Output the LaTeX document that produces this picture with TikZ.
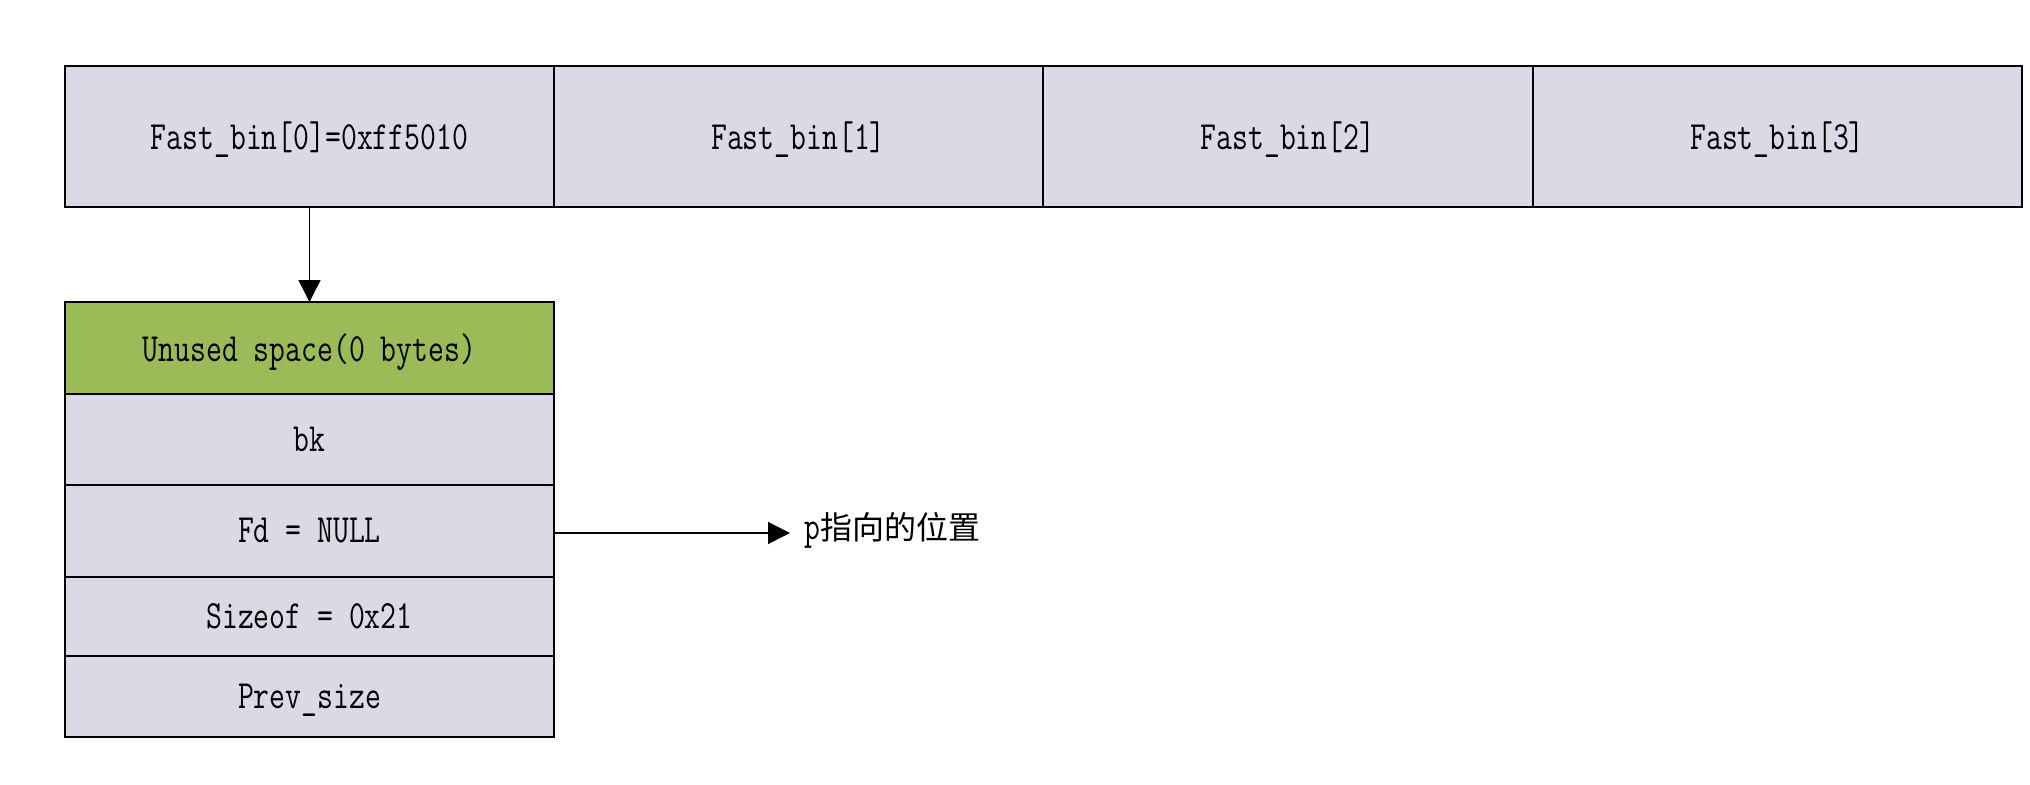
\documentclass[tikz,border=0pt]{standalone}
\usepackage{fontspec}
\usetikzlibrary{arrows.meta}
\newfontfamily\condmono{Latin Modern Mono}[FakeStretch=0.77]
\newfontfamily\cjk{Noto Sans CJK SC}
\definecolor{cellfill}{RGB}{221,216,230}
\definecolor{greenfill}{RGB}{155,187,89}
\tikzset{
  cell/.style={draw=black, line width=0.7pt, fill=cellfill, inner sep=0pt, outer sep=0pt,
    font=\condmono\fontsize{20}{22}\selectfont, anchor=center, text depth=0.5pt},
  arr/.style={line width=0.7pt, -{Triangle[length=11pt,width=11pt]}},
}
\begin{document}
\begin{tikzpicture}[x=0.5pt,y=-0.5pt]
\useasboundingbox (0,0) rectangle (2030,784);
% top row
\node[cell, minimum width=244.5pt, minimum height=70.5pt] (fb0) at (309.5,136.5) {Fast\_bin[0]=0xff5010};
\node[cell, minimum width=244.5pt, minimum height=70.5pt] (fb1) at (798.5,136.5) {Fast\_bin[1]};
\node[cell, minimum width=245pt, minimum height=70.5pt] (fb2) at (1288,136.5) {Fast\_bin[2]};
\node[cell, minimum width=244.5pt, minimum height=70.5pt] (fb3) at (1777.5,136.5) {Fast\_bin[3]};
% stack
\node[cell, fill=greenfill, minimum width=244.5pt, minimum height=46pt] (unused) at (309.5,348) {Unused space(0 bytes)};
\node[cell, minimum width=244.5pt, minimum height=45.5pt] (bk) at (309.5,439.5) {bk};
\node[cell, minimum width=244.5pt, minimum height=46pt] (fd) at (309.5,531) {Fd = NULL};
\node[cell, minimum width=244.5pt, minimum height=39.5pt] (size) at (309.5,616.5) {Sizeof = 0x21};
\node[cell, minimum width=244.5pt, minimum height=40.5pt] (prev) at (309.5,696.5) {Prev\_size};
% label
\coordinate (ptip) at (790,533);
\node[anchor=west, inner sep=0pt, font=\fontsize{20}{22}\selectfont] (plabel) at (804,530) {{\condmono p}{\cjk\fontsize{16}{18}\selectfont 指向的位置}};
% arrows
\draw[arr] (fb0.south) -- (unused.north);
\draw[arr] (fd.east |- ptip) -- (ptip);
\end{tikzpicture}
\end{document}
